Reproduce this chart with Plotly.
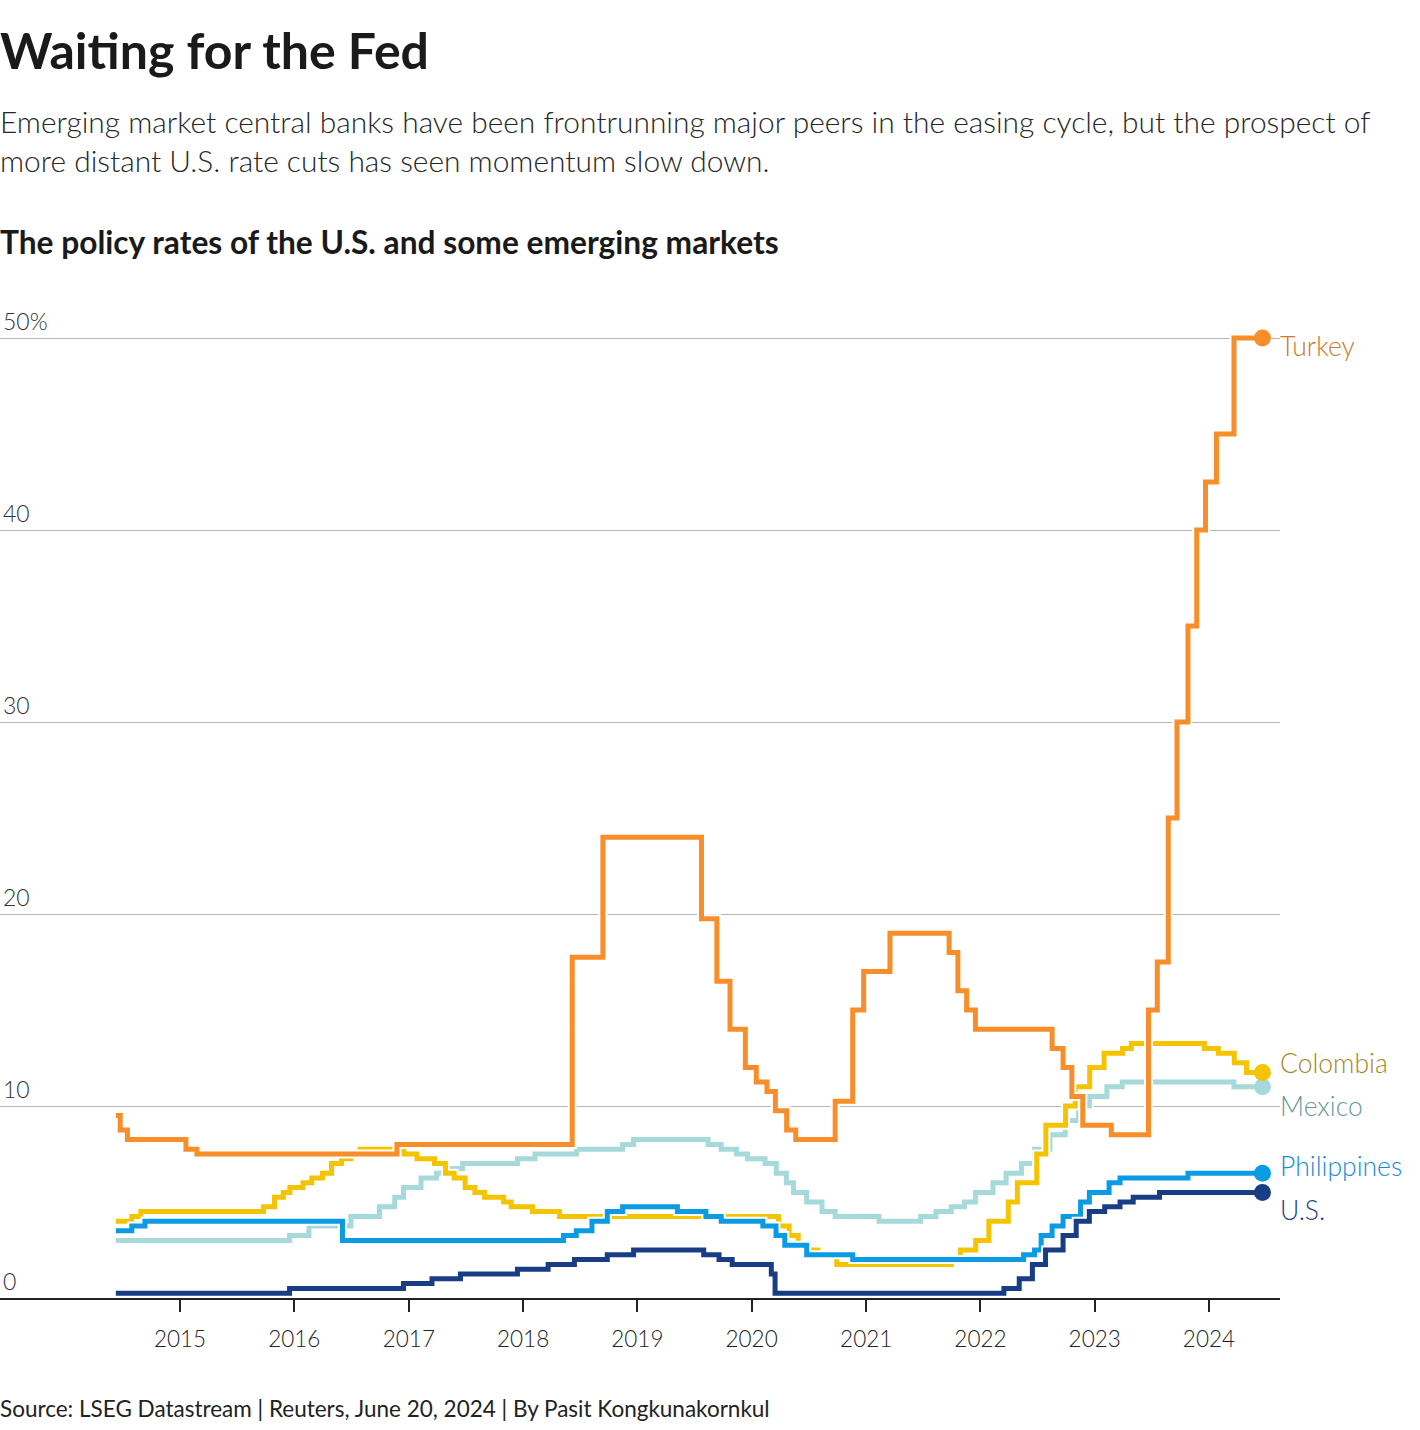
import plotly.graph_objects as go

END = "2024-06-20"
START = "2014-06-10"

turkey_dates = [START, "2014-06-24", "2014-07-17", "2015-01-20", "2015-02-24", "2016-11-24",
                "2018-06-07", "2018-09-13", "2019-07-25", "2019-09-12", "2019-10-24", "2019-12-12",
                "2020-01-16", "2020-02-19", "2020-03-17", "2020-04-22", "2020-05-21", "2020-09-24",
                "2020-11-19", "2020-12-24", "2021-03-18", "2021-09-23", "2021-10-21", "2021-11-18",
                "2021-12-16", "2022-08-18", "2022-09-22", "2022-10-20", "2022-11-24", "2023-02-23",
                "2023-06-22", "2023-07-20", "2023-08-24", "2023-09-21", "2023-10-26", "2023-11-23",
                "2023-12-21", "2024-01-25", "2024-03-21", END]
turkey_rates = [9.5, 8.75, 8.25, 7.75, 7.5, 8.0,
                17.75, 24.0, 19.75, 16.5, 14.0, 12.0,
                11.25, 10.75, 9.75, 8.75, 8.25, 10.25,
                15.0, 17.0, 19.0, 18.0, 16.0, 15.0,
                14.0, 13.0, 12.0, 10.5, 9.0, 8.5,
                15.0, 17.5, 25.0, 30.0, 35.0, 40.0,
                42.5, 45.0, 50.0, 50.0]

colombia_dates = [START, "2014-07-31", "2014-08-29", "2015-09-25", "2015-10-30", "2015-11-27",
                  "2015-12-18", "2016-01-29", "2016-02-26", "2016-03-31", "2016-04-29", "2016-05-31",
                  "2016-06-30", "2016-07-29", "2016-12-16", "2017-01-27", "2017-03-24", "2017-04-28",
                  "2017-05-26", "2017-06-30", "2017-07-31", "2017-08-31", "2017-10-31", "2017-11-24",
                  "2018-01-31", "2018-04-27", "2020-03-27", "2020-04-30", "2020-05-29", "2020-06-30",
                  "2020-07-31", "2020-09-29", "2021-09-30", "2021-10-29", "2021-12-17", "2022-01-28",
                  "2022-03-31", "2022-04-29", "2022-06-30", "2022-07-29", "2022-09-30", "2022-10-31",
                  "2022-12-16", "2023-01-31", "2023-03-31", "2023-04-28", "2023-12-18", "2024-01-31",
                  "2024-03-22", "2024-04-30", END]
colombia_rates = [4.0, 4.25, 4.5, 4.75, 5.25, 5.5,
                  5.75, 6.0, 6.25, 6.5, 7.0, 7.25,
                  7.5, 7.75, 7.5, 7.25, 7.0, 6.5,
                  6.25, 5.75, 5.5, 5.25, 5.0, 4.75,
                  4.5, 4.25, 3.75, 3.25, 2.75, 2.5,
                  2.25, 1.75, 2.0, 2.5, 3.0, 4.0,
                  5.0, 6.0, 7.5, 9.0, 10.0, 11.0,
                  12.0, 12.75, 13.0, 13.25, 13.0, 12.75,
                  12.25, 11.75, 11.75]

mexico_dates = [START, "2015-12-17", "2016-02-17", "2016-06-30", "2016-09-29", "2016-11-17",
                "2016-12-15", "2017-02-09", "2017-03-30", "2017-05-18", "2017-06-22", "2017-12-14",
                "2018-02-08", "2018-06-21", "2018-11-15", "2018-12-20", "2019-08-15", "2019-09-26",
                "2019-11-14", "2019-12-19", "2020-02-13", "2020-03-20", "2020-04-21", "2020-05-14",
                "2020-06-25", "2020-08-13", "2020-09-24", "2021-02-11", "2021-06-24", "2021-08-12",
                "2021-09-30", "2021-11-11", "2021-12-16", "2022-02-10", "2022-03-24", "2022-05-12",
                "2022-06-23", "2022-08-11", "2022-09-29", "2022-11-10", "2022-12-15", "2023-02-09",
                "2023-03-30", "2024-03-21", END]
mexico_rates = [3.0, 3.25, 3.75, 4.25, 4.75, 5.25,
                5.75, 6.25, 6.5, 6.75, 7.0, 7.25,
                7.5, 7.75, 8.0, 8.25, 8.0, 7.75,
                7.5, 7.25, 7.0, 6.5, 6.0, 5.5,
                5.0, 4.5, 4.25, 4.0, 4.25, 4.5,
                4.75, 5.0, 5.5, 6.0, 6.5, 7.0,
                7.75, 8.5, 9.25, 10.0, 10.5, 11.0,
                11.25, 11.0, 11.0]

philippines_dates = [START, "2014-07-31", "2014-09-11", "2016-06-03", "2018-05-10", "2018-06-20",
                     "2018-08-09", "2018-09-27", "2018-11-15", "2019-05-09", "2019-08-08", "2019-09-26",
                     "2020-02-06", "2020-03-19", "2020-04-16", "2020-06-25", "2020-11-19", "2022-05-19",
                     "2022-06-23", "2022-07-14", "2022-08-18", "2022-09-22", "2022-11-17", "2022-12-15",
                     "2023-02-16", "2023-03-23", "2023-10-26", END]
philippines_rates = [3.5, 3.75, 4.0, 3.0, 3.25, 3.5,
                     4.0, 4.5, 4.75, 4.5, 4.25, 4.0,
                     3.75, 3.25, 2.75, 2.25, 2.0, 2.25,
                     2.5, 3.25, 3.75, 4.25, 5.0, 5.5,
                     6.0, 6.25, 6.5, 6.5]

us_dates = [START, "2015-12-17", "2016-12-15", "2017-03-16", "2017-06-15", "2017-12-14",
            "2018-03-22", "2018-06-14", "2018-09-27", "2018-12-20", "2019-08-01", "2019-09-19",
            "2019-10-31", "2020-03-04", "2020-03-16", "2022-03-17", "2022-05-05", "2022-06-16",
            "2022-07-28", "2022-09-22", "2022-11-03", "2022-12-15", "2023-02-02", "2023-03-23",
            "2023-05-04", "2023-07-27", END]
us_rates = [0.25, 0.5, 0.75, 1.0, 1.25, 1.5,
            1.75, 2.0, 2.25, 2.5, 2.25, 2.0,
            1.75, 1.25, 0.25, 0.5, 1.0, 1.75,
            2.5, 3.25, 4.0, 4.5, 4.75, 5.0,
            5.25, 5.5, 5.5]

year_ticks = [f"{y}-01-01" for y in range(2015, 2025)]
year_labels = [str(y) for y in range(2015, 2025)]
y_ticks = [0, 10, 20, 30, 40, 50]
y_labels = ["0", "10", "20", "30", "40", "50%"]

# draw order bottom -> top
series = [
    ("Mexico", mexico_dates, mexico_rates, "#a6dada", "#6a9a9a"),
    ("Colombia", colombia_dates, colombia_rates, "#f5c400", "#a8861c"),
    ("Philippines", philippines_dates, philippines_rates, "#0a9be3", "#1a8ad6"),
    ("U.S.", us_dates, us_rates, "#193d84", "#1f3f8a"),
    ("Turkey", turkey_dates, turkey_rates, "#f88e2a", "#cc7a2a"),
]

FONT = "Lato, 'Source Sans Pro', 'Noto Sans', sans-serif"

fig = go.Figure()
for name, xs, ys, col, lcol in series:
    fig.add_trace(go.Scatter(x=xs, y=ys, mode="lines", line=dict(shape="hv", color="white", width=9),
                             hoverinfo="skip", showlegend=False))
    fig.add_trace(go.Scatter(x=xs, y=ys, mode="lines", line=dict(shape="hv", color=col, width=5),
                             name=name, showlegend=False))
    fig.add_trace(go.Scatter(x=[xs[-1]], y=[ys[-1]], mode="markers",
                             marker=dict(size=17, color=col), hoverinfo="skip", showlegend=False))

# right-hand labels
label_y = {"Turkey": 49.6, "Colombia": 12.25, "Mexico": 10.0, "Philippines": 6.9, "U.S.": 4.6}
for name, xs, ys, col, lcol in series:
    fig.add_annotation(x=1.0, xref="paper", y=label_y[name], yref="y",
                       text=name, showarrow=False, xanchor="left", yanchor="middle", xshift=-2,
                       font=dict(family=FONT, size=26.5, color=lcol, weight=300))

H_PLOT = 998.0
def py(p):
    return (1298 - p) / H_PLOT

fig.add_annotation(x=0, xref="paper", y=py(50), yref="paper", text="<b>Waiting for the Fed</b>",
                   showarrow=False, xanchor="left", yanchor="middle", xshift=-2,
                   font=dict(family=FONT, size=50, color="#1a1a1a"))
fig.add_annotation(x=0, xref="paper", y=py(141), yref="paper",
                   text="Emerging market central banks have been frontrunning major peers in the easing cycle, but the prospect of<br>more distant U.S. rate cuts has seen momentum slow down.",
                   showarrow=False, xanchor="left", yanchor="middle", align="left", xshift=-2,
                   font=dict(family=FONT, size=29.9, color="#262626", weight=300))
fig.add_annotation(x=0, xref="paper", y=py(242), yref="paper",
                   text="<b>The policy rates of the U.S. and some emerging markets</b>",
                   showarrow=False, xanchor="left", yanchor="middle", xshift=-2,
                   font=dict(family=FONT, size=31.7, color="#1a1a1a"))
fig.add_annotation(x=0, xref="paper", y=py(1408), yref="paper",
                   text="Source: LSEG Datastream | Reuters, June 20, 2024 | By Pasit Kongkunakornkul",
                   showarrow=False, xanchor="left", yanchor="middle", xshift=-2,
                   font=dict(family=FONT, size=22.5, color="#222222"))

fig.update_layout(
    width=1420, height=1430,
    margin=dict(l=0, r=140, t=300, b=132),
    paper_bgcolor="white", plot_bgcolor="white",
    font=dict(family=FONT, color="#333333"),
    hovermode=False,
    xaxis=dict(type="date", range=["2013-06-05", "2024-08-15"], tickvals=year_ticks, ticktext=year_labels,
               ticks="outside", ticklen=12, tickwidth=2, tickcolor="#222222",
               showline=True, linecolor="#222222", linewidth=2, showgrid=False, zeroline=False,
               ticklabelstandoff=8,
               tickfont=dict(family=FONT, size=22.5, color="#222222", weight=300)),
    yaxis=dict(range=[0, 998 / 19.2], tickvals=y_ticks, ticktext=y_labels,
               ticklabelposition="inside top", ticks="", showgrid=True, gridcolor="#b5b5b5", gridwidth=1,
               zeroline=False, showline=False,
               tickfont=dict(family=FONT, size=23, color="#333333", weight=300)),
)

fig.write_html("out.html", config={"displayModeBar": False},
               post_script="document.body.style.margin='0';document.body.style.padding='0';")
